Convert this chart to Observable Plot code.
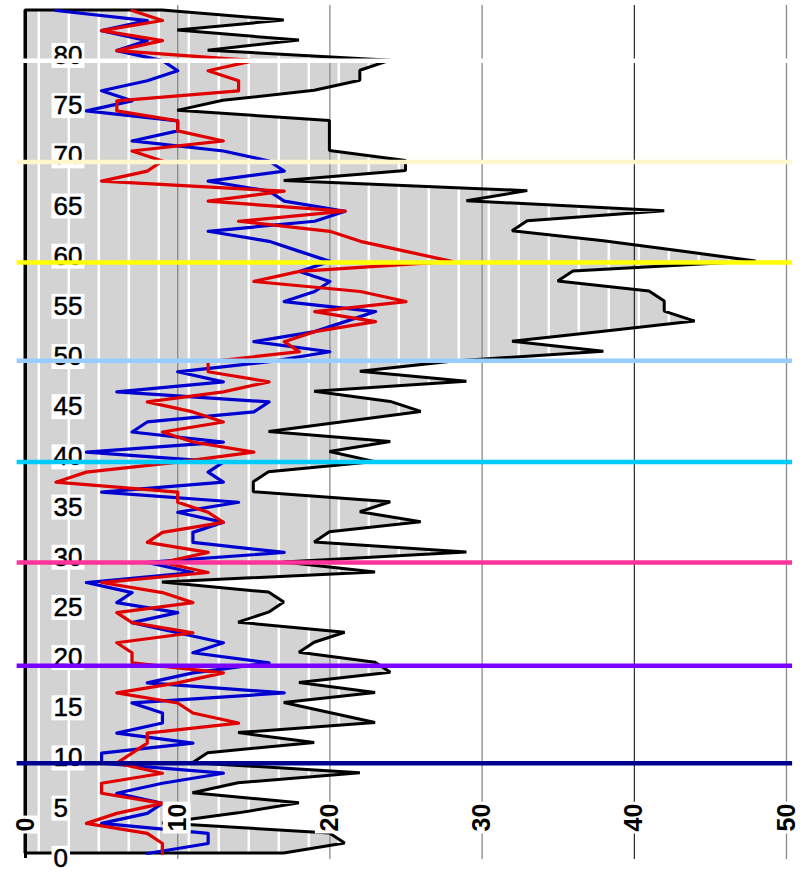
<!DOCTYPE html>
<html>
<head>
<meta charset="utf-8">
<script src="https://cdn.jsdelivr.net/npm/d3@7"></script>
<script src="https://cdn.jsdelivr.net/npm/@observablehq/plot@0.6"></script>
<style>
  html, body { margin: 0; padding: 0; background: #fff; }
  svg { display: block; }
</style>
</head>
<body>
<div id="chart"></div>
<script>
// Age categories (vertical axis), 0..84
const ages = d3.range(0, 85);

// Blue series (count per age)
const blue = [8,12,12,5,8,9,6,9,13,5, 5,11,6,9,9,7,17,8,11,16,
              11,13,10,7,10,6,7,4,11,8, 17,11,11,13,10,14,5,13,12,13,
              4,13,7,8,15,16,6,13,10,16, 20,15,19,21,23,17,19,20,18,20,
              18,16,12,19,21,17,16,12,17,16, 13,7,10,10,4,7,5,8,10,9,
              6,8,5,8,2];

// Red series
const red = [9,9,8,4,6,9,5,5,9,6, 7,8,8,14,11,10,6,10,13,7,
             7,6,11,7,6,11,9,5,12,9, 12,8,9,13,12,10,10,2,4,10,
             15,11,9,13,11,8,13,16,12,12, 18,17,19,23,19,25,22,15,18,28,
             25,22,20,14,21,12,17,5,8,9, 7,13,10,10,6,6,14,14,12,15,
             6,9,5,9,7];

// Black series (total, grey filled area)
const total = [17,21,20,9,14,18,11,14,22,11, 12,19,14,23,20,17,23,18,24,23,
               18,19,21,14,16,17,16,9,23,17, 29,19,20,26,22,24,15,15,16,23,
               20,24,16,21,26,24,19,29,22,28, 38,32,38,44,42,42,41,35,36,48,
               43,38,32,33,42,29,33,17,25,25, 20,20,20,20,10,13,19,22,22,24,
               12,18,10,17,9];

// Tick labels
const yTicks = [0,5,10,15,20,25,30,35,40,45,50,55,60,65,70,75,80];
const xTicks = [0,10,20,30,40,50];

// Decade reference lines (levels on the age axis) and their colours
const bands = [9, 18.7, 29, 39, 49.1, 58.9, 68.9, 79];
const bandColors = ["#000090", "#7a00ff", "#ff3399", "#00ccff", "#99ccff", "#ffff00", "#fff6cc", "#ffffff"];

const rows = ages.map((a, i) => ({age: a, blue: blue[i], red: red[i], total: total[i]}));

// fill pattern stripes (decoration of the grey area)
const stripes = d3.range(0.874, 50, 1.971);

const chart = Plot.plot({
  width: 808,
  height: 873,
  marginLeft: 25,
  marginRight: 22,
  marginTop: 10,
  marginBottom: 20,
  style: {fontFamily: "'Liberation Sans', Arial, sans-serif", background: "#fff"},
  x: {domain: [0, 50], axis: null},
  y: {domain: [0, 84], axis: null},
  color: {type: "identity"},
  marks: [
    Plot.areaX(rows, {y: "age", x1: 0, x2: "total", fill: "#d3d3d3"}),
    Plot.ruleX(stripes, {x: d => d, y1: -0.6, y2: 84.5, stroke: "#ffffff", strokeWidth: 2.5}),
    Plot.ruleX(xTicks.filter(d => d > 0 && d !== 40), {x: d => d, y1: -0.6, y2: 84.5, stroke: "#8a8a8a", strokeWidth: 1.3}),
    Plot.ruleX(xTicks.filter(d => d === 40), {x: d => d, y1: -0.6, y2: 84.5, stroke: "#000", strokeWidth: 1}),
    Plot.areaX(rows, {y: "age", x1: 0, x2: "total", fill: "none", stroke: "#000", strokeWidth: 3, strokeLinejoin: "miter"}),
    Plot.ruleX([0], {y1: -0.5, y2: 84, stroke: "#000", strokeWidth: 3}),
    Plot.lineX(rows, {x: "blue", y: "age", stroke: "#0000d0", strokeWidth: 3.2}),
    Plot.lineX(rows, {x: "red", y: "age", stroke: "#e00000", strokeWidth: 3.2}),
    Plot.text(yTicks, {y: d => d, text: d => String(d), frameAnchor: "left", dx: 28, dy: 5,
      textAnchor: "start", fontSize: 26, fill: "#000", stroke: "#000", strokeWidth: 0.5}),
    Plot.text(xTicks, {x: d => d, text: d => String(d), frameAnchor: "bottom", rotate: -90,
      textAnchor: "start", dx: 8, dy: -22, fontSize: 25, fontWeight: "bold", fill: "#000"}),
    Plot.ruleY(bands, {y: d => d, x1: -0.55, x2: 50.4, stroke: (d, i) => bandColors[i], strokeWidth: 4.5})
  ]
});

document.getElementById("chart").appendChild(chart);

// white boxes behind the tick labels
function boxes(group, padX, padTop, padBottom) {
  if (!group) return;
  d3.select(group).selectAll("text").each(function() {
    const b = this.getBBox();
    const r = document.createElementNS("http://www.w3.org/2000/svg", "rect");
    r.setAttribute("x", b.x - padX);
    r.setAttribute("width", b.width + 2 * padX);
    r.setAttribute("y", b.y - padTop);
    r.setAttribute("height", b.height + padTop + padBottom);
    r.setAttribute("fill", "#fff");
    r.setAttribute("stroke", "none");
    const t = this.getAttribute("transform");
    if (t) r.setAttribute("transform", t);
    this.parentNode.insertBefore(r, this);
  });
}
const textGroups = d3.select(chart).selectAll('g[aria-label="text"]').nodes();
boxes(textGroups[0], 2, -3, -2);
boxes(textGroups[1], 2, 0, 0);
</script>
</body>
</html>
